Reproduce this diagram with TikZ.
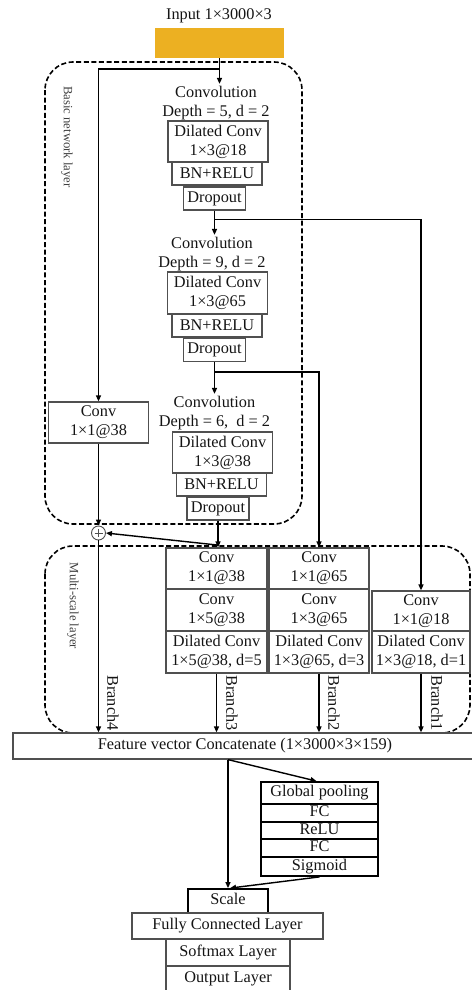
\documentclass[tikz,border=0pt]{standalone}
\usepackage{fontspec}
\setmainfont{Liberation Serif}
\usetikzlibrary{arrows.meta}
\definecolor{inorange}{RGB}{236,176,34}
\definecolor{boxgray}{RGB}{80,80,80}
\begin{document}
\begin{tikzpicture}[x=1pt,y=-1pt,
 every node/.style={font=\fontsize{16.3}{19}\selectfont, text=black!92},
 box/.style={draw=boxgray, line width=1.2pt, inner sep=0pt, align=center},
 sebox/.style={draw=black, line width=1.8pt, inner sep=0pt, align=center, minimum width=117pt, text height=11pt, text depth=3.5pt},
 txt/.style={align=center, inner sep=2pt},
 arr/.style={line width=1.4pt, -{Triangle[length=6pt,width=5pt]}},
 dashbox/.style={draw=black, line width=1.6pt, dash pattern=on 5pt off 2.6pt, rounded corners=28pt},
 vlab/.style={font=\fontsize{12.7}{15}\selectfont, text=black!75, rotate=-90},
 blab/.style={rotate=-90, inner sep=0pt},
]
\useasboundingbox (0,0) rectangle (471,990);

% dashed groups
\draw[dashbox] (45,62) rectangle (302,524);
\draw[dashbox] (45,546) rectangle (470,733);
\node[vlab] (lbasic) at (67,137) {Basic network layer};
\node[vlab] (lmulti) at (73,606) {Multi-scale layer};

% input
\node (inlbl) at (219,16) {Input 1×3000×3};
\node[fill=inorange, minimum width=129pt, minimum height=30pt, inner sep=0pt] (input) at (219.5,43) {};

% block 1
\node[txt] (t1) at (216,103) {Convolution\\Depth = 5, d = 2};
\node[box, minimum width=100pt, minimum height=41pt] (d1) at (218,141.5) {Dilated Conv\\1×3@18};
\node[box, minimum width=90pt, minimum height=23pt] (b1) at (217,173.5) {BN+RELU};
\node[box, minimum width=62pt, minimum height=23pt] (o1) at (214.5,198.5) {Dropout};

% block 2
\node[txt] (t2) at (212,254) {Convolution\\Depth = 9, d = 2};
\node[box, minimum width=100pt, minimum height=42pt] (d2) at (217.5,293) {Dilated Conv\\1×3@65};
\node[box, minimum width=90pt, minimum height=23pt] (b2) at (217,325.5) {BN+RELU};
\node[box, minimum width=62pt, minimum height=23pt] (o2) at (214.5,350) {Dropout};

% block 3
\node[txt] (t3) at (214.5,413) {Convolution\\Depth = 6,~ d = 2};
\node[box, minimum width=100pt, minimum height=41pt] (d3) at (222.5,452.5) {Dilated Conv\\1×3@38};
\node[box, minimum width=90pt, minimum height=23pt] (b3) at (221.5,484.5) {BN+RELU};
\node[box, minimum width=62pt, minimum height=23pt] (o3) at (218,508.5) {Dropout};

% shortcut conv
\node[box, minimum width=100pt, minimum height=41pt] (c0) at (98.5,422.5) {Conv\\1×1@38};
\node[circle, draw=boxgray, line width=0.9pt, minimum size=14pt, inner sep=0pt,
  path picture={\draw[line width=0.8pt] ([yshift=-3pt]path picture bounding box.north) -- ([yshift=3pt]path picture bounding box.south);
                \draw[line width=0.8pt] ([xshift=3pt]path picture bounding box.west) -- ([xshift=-3pt]path picture bounding box.east);}] (plus) at (98.5,533) {};

% multi-scale columns
\node[box, minimum width=101pt, minimum height=41pt] (m3a) at (216.5,568.5) {Conv\\1×1@38};
\node[box, minimum width=101pt, minimum height=42pt] (m3b) at (216.5,610) {Conv\\1×5@38};
\node[box, minimum width=101pt, minimum height=42pt] (m3c) at (216.5,652) {Dilated Conv\\1×5@38, d=5};
\node[box, minimum width=100pt, minimum height=41pt] (m2a) at (319,568.5) {Conv\\1×1@65};
\node[box, minimum width=100pt, minimum height=42pt] (m2b) at (319,610) {Conv\\1×3@65};
\node[box, minimum width=100pt, minimum height=42pt] (m2c) at (319,652) {Dilated Conv\\1×3@65, d=3};
\node[box, minimum width=98pt, minimum height=40pt] (m1b) at (421,611) {Conv\\1×1@18};
\node[box, minimum width=98pt, minimum height=42pt] (m1c) at (421,652) {Dilated Conv\\1×3@18, d=1};

% feature vector
\node[box, minimum width=464pt, minimum height=26pt] (feat) at (245,746) {Feature vector Concatenate (1×3000×3×159)};

% SE block
\node[sebox, minimum height=22pt] (gp) at (319.5,793) {Global pooling};
\node[sebox, minimum height=18pt] (fc1) at (319.5,813) {FC};
\node[sebox, minimum height=17pt] (relu) at (319.5,830.5) {ReLU};
\node[sebox, minimum height=18pt] (fc2) at (319.5,848) {FC};
\node[sebox, minimum height=19pt] (sig) at (319.5,866.5) {Sigmoid};

\node[sebox, minimum width=80pt, minimum height=24pt] (scale) at (228,901) {Scale};
\node[box, minimum width=191pt, minimum height=26pt] (fcl) at (227.5,926) {Fully Connected Layer};
\node[box, minimum width=124pt, minimum height=27pt] (soft) at (228,952.5) {Softmax Layer};
\node[box, minimum width=124pt, minimum height=26pt] (outl) at (228,979) {Output Layer};

% connectors
\draw[arr] (input.south) -- (input.south |- t1.north);
\draw[arr] ([yshift=-11pt]input.south) -| (c0.north);
\draw[arr] (o1.south) -- (o1.south |- t2.north);
\draw[arr] ([yshift=-9pt]o1.south) -| (m1b.north);
\draw[arr] (o2.south) -- (o2.south |- t3.north);
\draw[arr] ([yshift=-10pt]o2.south) -| (m2a.north);
\draw[arr] (o3.south) -- (o3.south |- m3a.north);
\draw[arr] ([yshift=-24.5pt]o3.south) -- (plus.east);
\draw[arr] (c0.south) -- (plus.north);
\draw[arr] (plus.south) -- (plus.south |- feat.north);
\draw[arr] (m3c.south) -- (m3c.south |- feat.north);
\draw[arr] (m2c.south) -- (m2c.south |- feat.north);
\draw[arr] (m1c.south) -- (m1c.south |- feat.north);
\node[blab] (br4) at (113,703) {Branch4};
\node[blab] (br3) at (232,703) {Branch3};
\node[blab] (br2) at (334,703) {Branch2};
\node[blab] (br1) at (437,703) {Branch1};

\coordinate (fsplit) at (scale.north |- feat.south);
\draw[arr] (fsplit) -- (scale.north);
\draw[arr] (fsplit) -- ([xshift=-3pt]gp.north);
\draw[arr] (sig.south) -- ([xshift=2pt]scale.north);
\end{tikzpicture}
\end{document}
